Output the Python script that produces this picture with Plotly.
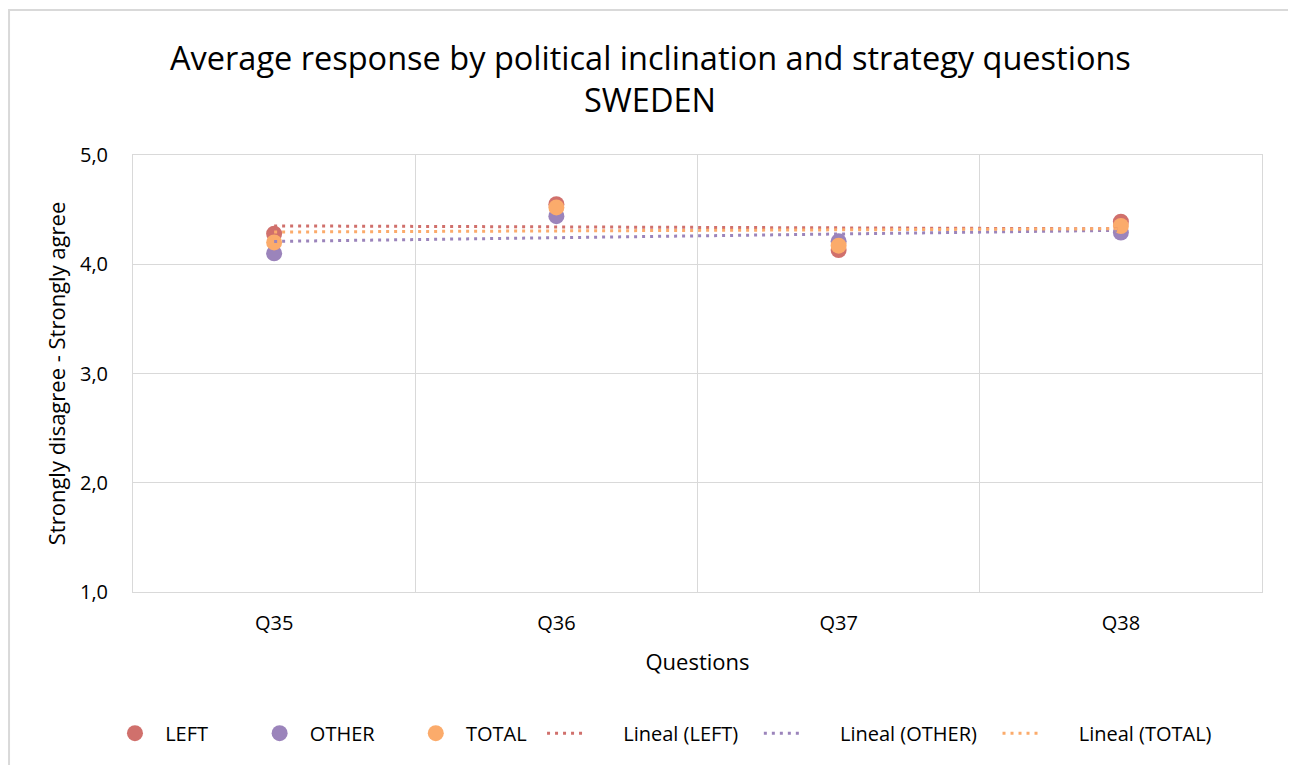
import numpy as np
import plotly.graph_objs as go

questions = ["Q35", "Q36", "Q37", "Q38"]
left = [4.28, 4.55, 4.13, 4.39]
other = [4.10, 4.44, 4.21, 4.29]
total = [4.20, 4.52, 4.17, 4.35]

FONT = "Open Sans"
NB = "\u00a0"
# name, values, colour, legend padding (marker entry, trendline entry)
series = [("LEFT", left, "#d0706c", 8, 3), ("OTHER", other, "#9b84bb", 6, 3), ("TOTAL", total, "#fbab6b", 2, 0)]


def trend(values):
    # linear trendline like Excel's "Lineal"
    x = np.arange(len(values))
    slope, inter = np.polyfit(x, values, 1)
    return list(slope * x + inter)


fig = go.Figure()
for name, vals, color, pad, _ in series:
    fig.add_trace(go.Scatter(x=questions, y=vals, mode="markers", name=NB + name + NB * pad,
                             marker=dict(size=16, color=color)))
for name, vals, color, _, pad in series:
    fig.add_trace(go.Scatter(x=questions, y=trend(vals), mode="lines",
                             name=NB * 6 + f"Lineal ({name})" + NB * pad,
                             line=dict(color=color, width=3, dash="3px,5px")))

fig.update_layout(
    width=1288, height=757,
    margin=dict(l=125, r=34, t=147, b=173),
    paper_bgcolor="white", plot_bgcolor="white",
    font=dict(family=FONT, size=20, color="#000000"),
    separators=",.",
    xaxis=dict(type="category", range=[-0.5, 3.5], tickson="boundaries", showgrid=True,
               gridcolor="#d9d9d9", gridwidth=1, showline=True, linecolor="#d9d9d9", mirror=True,
               ticks="", ticklabelstandoff=13,
               title=dict(text="Questions", standoff=19, font=dict(size=22))),
    yaxis=dict(range=[1, 5], dtick=1, tickformat=".1f", showgrid=True, gridcolor="#d9d9d9",
               showline=True, linecolor="#d9d9d9", mirror=True, zeroline=False,
               ticks="", ticklabelstandoff=20,
               title=dict(text="Strongly disagree - Strongly agree", standoff=8, font=dict(size=22))),
    legend=dict(orientation="h", x=-0.0204, xanchor="left", y=-0.323, yanchor="middle",
                font=dict(size=20), itemwidth=40, traceorder="normal"),
    annotations=[
        dict(text="Average response by political inclination and strategy questions", xref="paper", yref="paper",
             x=0.458, y=1.224, xanchor="center", yanchor="middle", showarrow=False,
             font=dict(size=32.5)),
        dict(text="SWEDEN", xref="paper", yref="paper", x=0.458, y=1.126, xanchor="center", yanchor="middle",
             showarrow=False, font=dict(size=32.5)),
    ],
    shapes=[dict(type="rect", xref="paper", yref="paper", x0=-0.1098, x1=1.0248, y0=-0.45, y1=1.3318,
                 line=dict(color="#d9d9d9", width=2), layer="below")],
)

fig.write_html("out.html")
